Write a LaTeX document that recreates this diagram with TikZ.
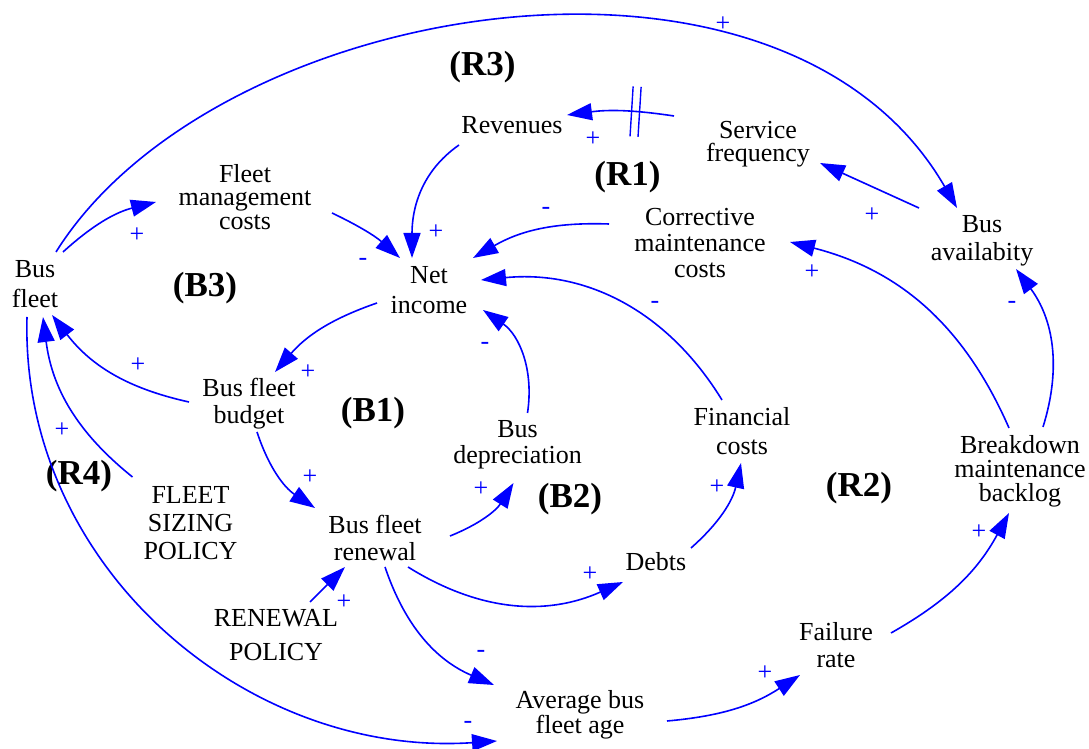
\documentclass[tikz,border=0pt]{standalone}
\usepackage{fontspec}
\setmainfont{Liberation Serif}
\usetikzlibrary{arrows.meta,calc,decorations.markings}
\definecolor{linkblue}{RGB}{0,0,255}
\begin{document}
\begin{tikzpicture}[x=1pt,y=1pt,
  var/.style={align=center, inner sep=0pt, font=\fontsize{26}{#1}\selectfont},
  var/.default=26,
  link/.style={draw=linkblue, line width=1.6pt, -{Triangle[length=25pt,width=17pt]}},
  pol/.style={text=linkblue, inner sep=0pt, font=\fontsize{26}{26}\selectfont},
  looplabel/.style={inner sep=0pt, font=\fontsize{35}{35}\selectfont\bfseries},
  delay/.style={postaction=decorate, decoration={markings,
    mark=at position #1 with {\draw[-, linkblue, line width=1.4pt]
      (-4,-25) -- (-4,25) (4,-25) -- (4,25);}}},
]
\useasboundingbox (0,0) rectangle (1089,749);

% variables
\node[var=26]   (rev)     at (512,624)   {Revenues};
\node[var=23.5] (serv)    at (758,605)   {Service\\frequency};
\node[var=23.5] (fmc)     at (245,552)   {Fleet\\management\\costs};
\node[var=29.4] (fleet)   at (35,465)    {Bus\\fleet};
\node[var=30]   (net)     at (429,459)   {Net\\income};
\node[var=26]   (cmc)     at (700,506)   {Corrective\\maintenance\\costs};
\node[var=28.4] (avail)   at (982,508)   {Bus\\availabity};
\node[var=26.7] (budget)  at (249,345)   {Bus fleet\\budget};
\node[var=25.7] (dep)     at (517.5,304) {Bus\\depreciation};
\node[var=29.3] (fin)     at (742,318)   {Financial\\costs};
\node[var=24]   (backlog) at (1020,278)  {Breakdown\\maintenance\\backlog};
\node[var=28]   (fsp)     at (190.5,226) {FLEET\\SIZING\\POLICY};
\node[var=26.7] (renew)   at (375,211)   {Bus fleet\\renewal};
\node[var]      (debts)   at (656,187)   {Debts};
\node[var=34]   (rpol)    at (276,114)   {RENEWAL\\POLICY};
\node[var=26.7] (fail)    at (836,104)   {Failure\\rate};
\node[var=23]   (age)     at (580,34)    {Average bus\\fleet age};

% loop labels
\node[looplabel] (R3) at (482.5,681.5) {(R3)};
\node[looplabel] (R1) at (627.5,571.5) {(R1)};
\node[looplabel] (B3) at (205,461)     {(B3)};
\node[looplabel] (B1) at (373,336)     {(B1)};
\node[looplabel] (B2) at (570,249.5)   {(B2)};
\node[looplabel] (R2) at (859,261)     {(R2)};
\node[looplabel] (R4) at (79,273)      {(R4)};

% causal links
\draw[link, delay=0.36] ($(serv)+(-84,28)$) to[bend right=8] ($(rev)+(55,10)$);
\draw[link] ($(rev)+(-53,-20)$) to[out=215,in=90] ($(net)+(-17,32)$);
\draw[link] ($(fmc)+(87,-16)$) to[bend left=8] ($(net)+(-29,32)$);
\draw[link] ($(fleet)+(28,32)$) to[bend left=14] ($(fmc)+(-89,-5)$);
\draw[link] ($(fleet)+(21,32)$) .. controls +(159,254) and +(-175,303) .. ($(avail)+(-25,33)$);
\draw[link] ($(avail)+(-63,33)$) -- ($(serv)+(62,-19)$);
\draw[link] ($(cmc)+(-91,19)$) to[bend right=16] ($(net)+(44,32)$);
\draw[link] ($(backlog)+(-11,43)$) to[bend right=26] ($(cmc)+(90,1)$);
\draw[link] ($(backlog)+(23,44)$) to[bend right=27] ($(avail)+(34,-28)$);
\draw[link] ($(fin)+(-20,31)$) to[bend right=32] ($(net)+(52,10)$);
\draw[link] ($(net)+(-52,-13)$) to[bend right=15] ($(budget)+(26,32)$);
\draw[link] ($(budget)+(-60,2)$) to[bend left=20] ($(fleet)+(17,-31)$);
\draw[link] ($(budget)+(8,-28)$) to[bend right=19] ($(renew)+(-60,30)$);
\draw[link] ($(dep)+(10,32)$) to[bend right=32] ($(net)+(54,-20)$);
\draw[link] ($(renew)+(75,2)$) to[bend right=18] ($(dep)+(-4,-38)$);
\draw[link] ($(renew)+(33,-29)$) to[bend right=28] ($(debts)+(-33,-20)$);
\draw[link] ($(debts)+(35,14)$) to[bend right=18] ($(fin)+(-1,-32)$);
\draw[link] ($(renew)+(10,-29)$) to[bend right=24] ($(age)+(-86,30)$);
\draw[link] ($(age)+(87,-6)$) to[bend right=14] ($(fail)+(-36,-30)$);
\draw[link] ($(fail)+(55,12)$) to[bend right=16] ($(backlog)+(-11,-42)$);
\draw[link] ($(fsp)+(-58,46)$) to[bend left=22] ($(fleet)+(8,-33)$);
\draw[link] ($(rpol)+(34,33)$) -- ($(renew)+(-30,-29)$);
\draw[link] ($(fleet)+(-8,-33)$) .. controls +(-7,-250) and +(-250,-17) .. ($(age)+(-83,-26)$);

% link polarities
\node[pol] (p1)  at (593,610) {+};
\node[pol] (p2)  at (436,517) {+};
\node[pol] (p3)  at (363,487) {-};
\node[pol] (p4)  at (137,514) {+};
\node[pol] (p5)  at (723,725) {+};
\node[pol] (p6)  at (872,534) {+};
\node[pol] (p7)  at (546,538) {-};
\node[pol] (p8)  at (812,477) {+};
\node[pol] (p9)  at (1012,444) {-};
\node[pol] (p10) at (655,444) {-};
\node[pol] (p11) at (308,377) {+};
\node[pol] (p12) at (138,384) {+};
\node[pol] (p13) at (310,272) {+};
\node[pol] (p14) at (485,403) {-};
\node[pol] (p15) at (481,260) {+};
\node[pol] (p16) at (590,175) {+};
\node[pol] (p17) at (717,262) {+};
\node[pol] (p18) at (481,95)  {-};
\node[pol] (p19) at (765,76)  {+};
\node[pol] (p20) at (979,217) {+};
\node[pol] (p21) at (62,319)  {+};
\node[pol] (p22) at (344,147) {+};
\node[pol] (p23) at (468,24)  {-};
\end{tikzpicture}
\end{document}
